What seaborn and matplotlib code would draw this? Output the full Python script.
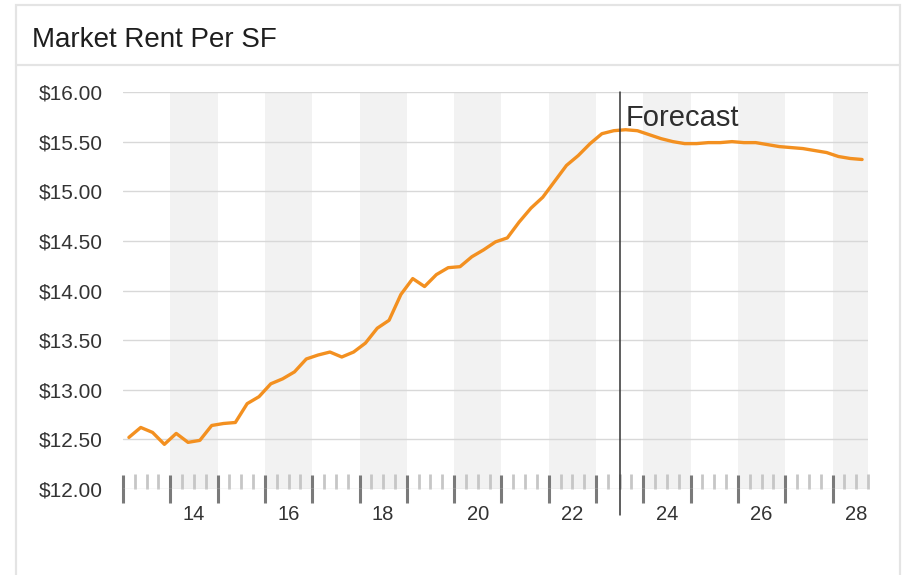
import matplotlib
matplotlib.use("Agg")
import matplotlib.pyplot as plt
import matplotlib.ticker as mticker
import matplotlib.transforms as mtransforms
from matplotlib.patches import Rectangle
from matplotlib.lines import Line2D
import numpy as np
import pandas as pd
import seaborn as sns

# ---------------- data ----------------
start_quarter = "2013Q1"
rent = [12.52, 12.62, 12.57, 12.45, 12.56, 12.47, 12.49, 12.64,
        12.66, 12.67, 12.86, 12.93, 13.06, 13.11, 13.18, 13.31,
        13.35, 13.38, 13.33, 13.38, 13.47, 13.62, 13.70, 13.96,
        14.12, 14.04, 14.16, 14.23, 14.24, 14.34, 14.41, 14.49,
        14.53, 14.69, 14.83, 14.94, 15.10, 15.26, 15.36, 15.48,
        15.58, 15.61, 15.62, 15.61, 15.57, 15.53, 15.50, 15.48,
        15.48, 15.49, 15.49, 15.50, 15.49, 15.49, 15.47, 15.45,
        15.44, 15.43, 15.41, 15.39, 15.35, 15.33, 15.32]
forecast_start = 2023.5
year_labels = [14, 16, 18, 20, 22, 24, 26, 28]
y_ticks = [12.0, 12.5, 13.0, 13.5, 14.0, 14.5, 15.0, 15.5, 16.0]
title = "Market Rent Per SF"
forecast_label = "Forecast"

periods = pd.period_range(start_quarter, periods=len(rent), freq="Q")
df = pd.DataFrame({
    "t": periods.year + (periods.quarter - 0.5) / 4.0,
    "rent": rent,
})
x_min = float(periods[0].year)
x_max = float(periods[-1].year + periods[-1].quarter / 4.0)

# ---------------- style ----------------
sns.set_style("white")
plt.rcParams["font.family"] = ["Liberation Sans", "DejaVu Sans"]

W, H = 905, 575
fig = plt.figure(figsize=(W / 100, H / 100), dpi=100)
fig.patch.set_facecolor("white")

# card frame
card_col = "#e4e4e4"
fig.patches.append(Rectangle((16 / W, -0.05), (900 - 16) / W, 1 - 5 / H + 0.05,
                             transform=fig.transFigure, fill=False,
                             edgecolor=card_col, linewidth=1.6, zorder=0))
fig.lines.append(Line2D([16 / W, 900 / W], [1 - 65 / H, 1 - 65 / H],
                        transform=fig.transFigure, color=card_col, linewidth=1.6))
fig.text(32 / W, 1 - 47 / H, title, fontsize=20, color="#1e1e1e",
         ha="left", va="baseline")

ax = fig.add_axes([123 / W, 1 - 489 / H, 745 / W, 397 / H])
ax.set_facecolor("white")

# alternate year shading
for yr in range(int(x_min), int(np.ceil(x_max))):
    if yr % 2 == 0:
        ax.axvspan(yr, min(yr + 1, x_max), color="#f2f2f2", lw=0, zorder=0)

# gridlines
for yv in y_ticks:
    ax.axhline(yv, color="#d8d8d8", lw=1.0, zorder=1)

sns.lineplot(data=df, x="t", y="rent", ax=ax, color="#f39020",
             linewidth=2.4, zorder=3, legend=False)

# forecast marker
ax.axvline(forecast_start, ymin=-0.066, ymax=1.0, color="#333333",
           lw=1.1, zorder=4, clip_on=False)
ax.annotate(forecast_label, xy=(forecast_start, 0.914),
            xycoords=ax.get_xaxis_transform(),
            xytext=(4.3, 0), textcoords="offset points",
            fontsize=21, color="#2e2e2e", ha="left", va="baseline")

ax.set_xlim(x_min, x_max)
ax.set_ylim(y_ticks[0], y_ticks[-1])
for s in ax.spines.values():
    s.set_visible(False)

ax.set_yticks(y_ticks)
ax.yaxis.set_major_formatter(mticker.StrMethodFormatter("${x:,.2f}"))
ax.tick_params(axis="y", length=0, pad=14.4, labelsize=15, labelcolor="#333333")

# x axis: year boundary ticks (major) and quarter ticks (minor, labelled at mid-year)
major_x = np.arange(x_min, x_max + 1e-9, 1.0)
ax.set_xticks(major_x)
ax.set_xticklabels([""] * len(major_x))
minor_x = [q for q in np.arange(x_min, x_max + 1e-9, 0.25) if q % 1 != 0]
minor_lbl = []
for q in minor_x:
    yy = int(np.floor(q)) % 100
    minor_lbl.append(str(yy) if (abs(q % 1 - 0.5) < 1e-9 and yy in year_labels) else "")
ax.set_xticks(minor_x, minor=True)
ax.set_xticklabels(minor_lbl, minor=True)
ax.tick_params(axis="x", which="major", direction="inout", length=20.5,
               width=2.2, color="#7a7a7a", bottom=True)
ax.tick_params(axis="x", which="minor", direction="in", length=10.8,
               width=2.0, color="#c6c6c6", bottom=True, pad=11.5,
               labelsize=14.5, labelcolor="#333333")
ax.set_xlabel("")
ax.set_ylabel("")

fig.savefig("out.png", dpi=100, facecolor="white")
